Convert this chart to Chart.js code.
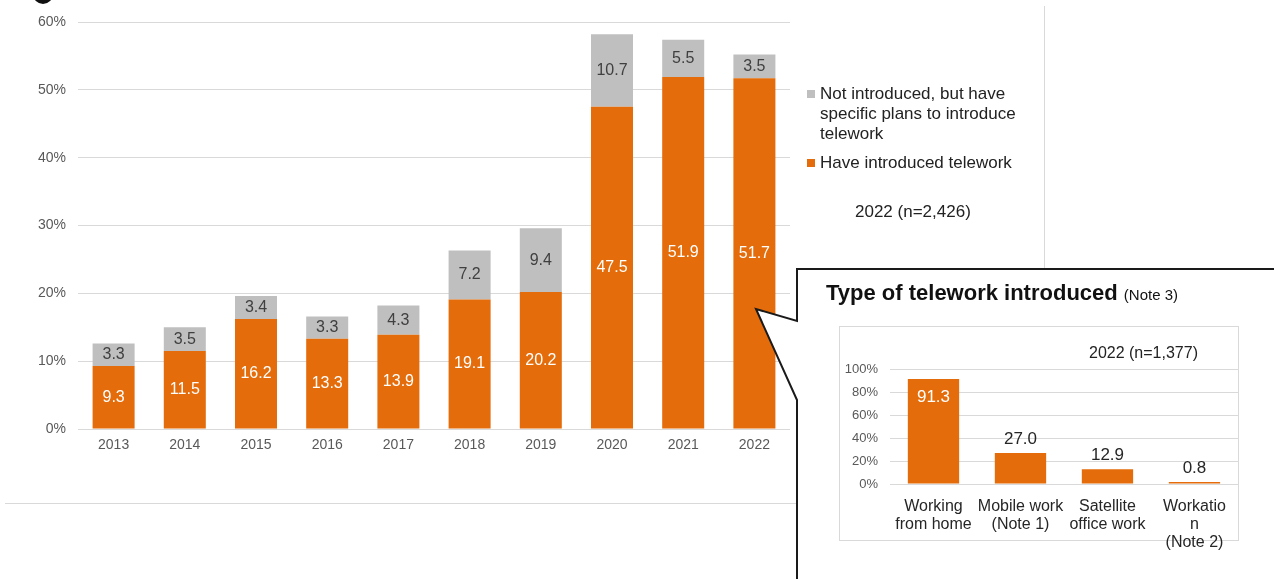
<!DOCTYPE html>
<html>
<head>
<meta charset="utf-8">
<script src="https://cdn.jsdelivr.net/npm/chart.js@4.4.1/dist/chart.umd.min.js"></script>
<style>
  html, body { margin: 0; padding: 0; background: #fff; }
  body {
    width: 1274px; height: 579px; position: relative; overflow: hidden;
    font-family: "Liberation Sans", Arial, sans-serif; color: #222;
  }
  canvas { position: absolute; }
  #main { left: 0; top: 0; }
  .abs { position: absolute; white-space: nowrap; }
  .frame-r { position: absolute; left: 1044px; top: 6px; width: 1px; height: 500px; background: #D9D9D9; }
  .frame-b { position: absolute; left: 5px; top: 503px; width: 1040px; height: 1px; background: #D9D9D9; }
  .dot { position: absolute; left: 33px; top: -16px; width: 20px; height: 20px; border-radius: 50%; background: #111; }
  .legend { left: 807px; top: 84px; font-size: 17px; line-height: 20px; }
  .legend .item { position: relative; padding-left: 13px; }
  .legend .sw { position: absolute; left: 0; top: 6px; width: 8px; height: 8px; }
  #callout { position: absolute; left: 0; top: 0; }
  #insetTitle { left: 826px; top: 280px; font-size: 22px; line-height: 26px; font-weight: bold; color: #111; }
  #insetTitle span { font-size: 15px; font-weight: normal; }
  #insetFrame { position: absolute; left: 839px; top: 326px; width: 400px; height: 215px; box-sizing: border-box; border: 1px solid #D9D9D9; }
</style>
</head>
<body>
<canvas id="main" width="1274" height="579"></canvas>
<div class="frame-r"></div>
<div class="frame-b"></div>
<div class="dot"></div>

<div class="abs legend">
  <div class="item"><span class="sw" style="background:#BFBFBF"></span>Not introduced, but have<br>specific plans to introduce<br>telework</div>
  <div class="item" style="margin-top:9px"><span class="sw" style="background:#E46C0A"></span>Have introduced telework</div>
</div>
<div class="abs" style="left:855px; top:202px; font-size:17px; line-height:20px;">2022 (n=2,426)</div>

<svg id="callout" width="1274" height="579">
  <polygon points="1290,269 797,269 797,321 756,309 797,400 797,600 1290,600"
           fill="#fff" stroke="#1a1a1a" stroke-width="2" stroke-linejoin="miter"/>
</svg>

<div class="abs" id="insetTitle">Type of telework introduced <span>(Note 3)</span></div>
<div id="insetFrame"></div>
<div class="abs" style="left:1089px; top:343px; font-size:16px; line-height:20px;">2022 (n=1,377)</div>
<canvas id="inset" width="400" height="240" style="left:839px; top:326px;"></canvas>

<script>
// Survey years and shares of companies (%)
const years = ['2013', '2014', '2015', '2016', '2017', '2018', '2019', '2020', '2021', '2022'];
const introduced = [9.3, 11.5, 16.2, 13.3, 13.9, 19.1, 20.2, 47.5, 51.9, 51.7];
const planned = [3.3, 3.5, 3.4, 3.3, 4.3, 7.2, 9.4, 10.7, 5.5, 3.5];
const mainTicks = [0, 10, 20, 30, 40, 50, 60];

// Breakdown of telework types among introducing companies, 2022
const types = [['Working', 'from home'], ['Mobile work', '(Note 1)'], ['Satellite', 'office work'], ['Workatio', 'n', '(Note 2)']];
const typeShares = [91.3, 27.0, 12.9, 0.8];
const insetTicks = [0, 20, 40, 60, 80, 100];

const ORANGE = '#E46C0A';
const GREY = '#BFBFBF';
Chart.defaults.font.family = '"Liberation Sans", Arial, sans-serif';

// Draws each bar's value as text: centred in the segment, or just inside/above the bar top
const valueLabels = {
  id: 'valueLabels',
  afterDatasetsDraw(chart, args, opts) {
    const ctx = chart.ctx;
    ctx.save();
    ctx.textAlign = 'center';
    ctx.textBaseline = 'middle';
    chart.data.datasets.forEach((ds, di) => {
      const st = opts.styles[di];
      const meta = chart.getDatasetMeta(di);
      ctx.font = st.size + 'px "Liberation Sans", Arial, sans-serif';
      meta.data.forEach((bar, i) => {
        const v = ds.data[i];
        const p = bar.getProps(['x', 'y', 'base'], true);
        let y, color = st.color;
        if (st.mode === 'center') {
          y = (p.y + p.base) / 2;
        } else if (v > 50) {
          y = p.y + 18;
          color = '#fff';
        } else {
          y = p.y - 14;
        }
        ctx.fillStyle = color;
        ctx.fillText(v.toFixed(1), p.x, y);
      });
    });
    ctx.restore();
  }
};

new Chart(document.getElementById('main'), {
  type: 'bar',
  data: {
    labels: years,
    datasets: [
      { label: 'Have introduced telework', data: introduced, backgroundColor: ORANGE },
      { label: 'Not introduced, but have specific plans to introduce telework', data: planned, backgroundColor: GREY }
    ]
  },
  options: {
    responsive: false,
    animation: false,
    layout: { padding: { left: 0, right: 484, top: 22, bottom: 110 } },
    datasets: { bar: { categoryPercentage: 1, barPercentage: 0.59 } },
    scales: {
      x: {
        stacked: true,
        grid: { display: false, drawTicks: false },
        border: { display: false },
        ticks: { color: '#595959', font: { size: 14 }, padding: 8, maxRotation: 0 },
        afterFit(s) { s.height = 40; }
      },
      y: {
        stacked: true,
        min: mainTicks[0],
        max: mainTicks[mainTicks.length - 1],
        afterBuildTicks(s) { s.ticks = mainTicks.map(v => ({ value: v })); },
        ticks: { color: '#595959', font: { size: 14 }, padding: 12, callback: v => v + '%' },
        grid: { color: '#D9D9D9', drawTicks: false },
        border: { display: false },
        afterFit(s) { s.width = 78; }
      }
    },
    plugins: {
      legend: { display: false },
      tooltip: { enabled: false },
      valueLabels: {
        styles: [
          { mode: 'center', color: '#fff', size: 16 },
          { mode: 'center', color: '#404040', size: 16 }
        ]
      }
    }
  },
  plugins: [valueLabels]
});

new Chart(document.getElementById('inset'), {
  type: 'bar',
  data: {
    labels: types,
    datasets: [{ label: 'Type of telework introduced', data: typeShares, backgroundColor: ORANGE, minBarLength: 2 }]
  },
  options: {
    responsive: false,
    animation: false,
    layout: { padding: { left: 0, right: 1, top: 43, bottom: 0 } },
    datasets: { bar: { categoryPercentage: 1, barPercentage: 0.59 } },
    scales: {
      x: {
        grid: { display: false, drawTicks: false },
        border: { display: false },
        ticks: { color: '#262626', font: { size: 16, lineHeight: 1.15 }, padding: 13, maxRotation: 0, autoSkip: false },
        afterFit(s) { s.height = 82; }
      },
      y: {
        min: insetTicks[0],
        max: insetTicks[insetTicks.length - 1],
        afterBuildTicks(s) { s.ticks = insetTicks.map(v => ({ value: v })); },
        ticks: { color: '#595959', font: { size: 13 }, padding: 12, callback: v => v + '%' },
        grid: { color: '#D9D9D9', drawTicks: false },
        border: { display: false },
        afterFit(s) { s.width = 51; }
      }
    },
    plugins: {
      legend: { display: false },
      tooltip: { enabled: false },
      valueLabels: { styles: [{ mode: 'top', color: '#262626', size: 17 }] }
    }
  },
  plugins: [valueLabels]
});
</script>
</body>
</html>
